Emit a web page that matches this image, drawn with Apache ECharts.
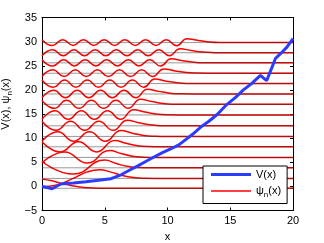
<!DOCTYPE html>
<html><head><meta charset="utf-8">
<script src="https://cdn.jsdelivr.net/npm/echarts@6/dist/echarts.min.js"></script>
<style>html,body{margin:0;padding:0;background:#fff}#c{width:324px;height:243px}</style>
</head><body><div id="c"></div>
<script>
// Potential V(x)
const vX = [0, 0.8, 1.5, 2.5, 3.5, 4.5, 5.5, 6.3, 7.0, 7.6, 8.3, 9.0, 9.6, 10.2, 10.9, 11.5, 12.0, 12.6, 13.3, 14.0, 14.7, 15.4, 16.05, 16.7, 17.4, 17.9, 18.3, 18.6, 19.0, 19.5, 20.0];
const vY = [0, -0.5, 0.5, 0.7, 0.95, 1.25, 1.6, 2.4, 3.4, 4.2, 5.2, 6.2, 7.0, 7.7, 8.6, 9.8, 10.8, 12.2, 13.5, 15.0, 16.9, 18.4, 20.0, 21.3, 23.0, 21.9, 24.5, 26.5, 27.5, 28.8, 30.6];

// Energy levels (offsets of each wavefunction)
const levels = [-0.4, 1.65, 3.85, 6.0, 8.2, 10.35, 12.55, 14.8, 17.0, 19.15, 21.3, 23.45, 25.6, 27.7, 29.8];

// Wavefunction key points [x, psi] (relative to level)
const psi0 = [[0,1.95],[0.8,1.55],[1.6,1.0],[2.4,0.55],[3.2,0.22],[4.0,0.07],[5.0,0],[20,0]];
const psi1 = [[0,-1.7],[1.2,-1.35],[2.4,-0.1],[3.6,1.35],[4.6,1.8],[5.5,1.3],[6.4,0.6],[7.3,0.18],[8.2,0.03],[9,0],[20,0]];
const psi2 = [[0,1.3],[2.5,-1.3],[5.0,1.6],[5.9,0.9],[6.8,0.3],[7.7,0.06],[8.6,0],[20,0]];
const psi3 = [[0,-1.15],[1.8,1.15],[3.6,-1.15],[5.4,1.45],[6.3,0.8],[7.2,0.26],[8.1,0.05],[9,0],[20,0]];
const psi4 = [[0,1.05],[1.45,-1.05],[2.9,1.05],[4.35,-1.05],[5.8,1.3],[6.7,0.72],[7.6,0.23],[8.5,0.04],[9.4,0],[20,0]];
const psi5 = [[0,-0.98],[1.26,0.98],[2.52,-0.98],[3.78,0.98],[5.04,-0.98],[6.3,1.22],[7.2,0.67],[8.1,0.21],[9.0,0.04],[9.9,0],[20,0]];
const psi6 = [[0,0.93],[1.13,-0.93],[2.27,0.93],[3.4,-0.93],[4.53,0.93],[5.67,-0.93],[6.8,1.15],[7.7,0.63],[8.6,0.2],[9.5,0.03],[10.4,0],[20,0]];
const psi7 = [[0,-0.88],[1.04,0.88],[2.09,-0.88],[3.13,0.88],[4.17,-0.88],[5.21,0.88],[6.26,-0.88],[7.3,1.1],[8.2,0.6],[9.1,0.19],[10,0.03],[10.9,0],[20,0]];
const psi8 = [[0,0.83],[0.98,-0.83],[1.96,0.83],[2.94,-0.83],[3.93,0.83],[4.91,-0.83],[5.89,0.83],[6.87,-0.83],[7.85,1.04],[8.75,0.57],[9.65,0.18],[10.55,0.03],[11.4,0],[20,0]];
const psi9 = [[0,-0.78],[0.93,0.78],[1.87,-0.78],[2.8,0.78],[3.73,-0.78],[4.67,0.78],[5.6,-0.78],[6.53,0.78],[7.47,-0.78],[8.4,0.98],[9.3,0.54],[10.2,0.17],[11.1,0.03],[12,0],[20,0]];
const psi10 = [[0,0.74],[0.9,-0.74],[1.8,0.74],[2.7,-0.74],[3.6,0.74],[4.5,-0.74],[5.4,0.74],[6.3,-0.74],[7.2,0.74],[8.1,-0.74],[9.0,0.93],[9.9,0.51],[10.8,0.16],[11.7,0.03],[12.6,0],[20,0]];
const psi11 = [[0,-0.7],[0.88,0.7],[1.76,-0.7],[2.65,0.7],[3.53,-0.7],[4.41,0.7],[5.29,-0.7],[6.17,0.7],[7.05,-0.7],[7.94,0.7],[8.82,-0.7],[9.7,0.88],[10.6,0.48],[11.5,0.15],[12.4,0.03],[13.3,0],[20,0]];
const psi12 = [[0,0.66],[0.86,-0.66],[1.72,0.66],[2.58,-0.66],[3.43,0.66],[4.29,-0.66],[5.15,0.66],[6.01,-0.66],[6.87,0.66],[7.73,-0.66],[8.58,0.66],[9.44,-0.66],[10.3,0.83],[11.2,0.45],[12.1,0.14],[13.0,0.02],[13.9,0],[20,0]];
const psi13 = [[0,-0.63],[0.85,0.63],[1.69,-0.63],[2.54,0.63],[3.38,-0.63],[4.23,0.63],[5.08,-0.63],[5.92,0.63],[6.77,-0.63],[7.62,0.63],[8.46,-0.63],[9.31,0.63],[10.15,-0.63],[11.0,0.8],[11.9,0.44],[12.8,0.13],[13.7,0.02],[14.6,0],[20,0]];
const psi14 = [[0,0.6],[0.83,-0.6],[1.65,0.6],[2.48,-0.6],[3.3,0.6],[4.13,-0.6],[4.95,0.6],[5.78,-0.6],[6.6,0.6],[7.43,-0.6],[8.25,0.6],[9.08,-0.6],[9.9,0.6],[10.73,-0.66],[11.55,0.82],[12.45,0.45],[13.35,0.14],[14.25,0.02],[15.1,0],[20,0]];
const waves = [psi0, psi1, psi2, psi3, psi4, psi5, psi6, psi7, psi8, psi9, psi10, psi11, psi12, psi13, psi14];

const xTicks = [0, 5, 10, 15, 20];
const yTicks = [-5, 0, 5, 10, 15, 20, 25, 30, 35];

const font = 'Liberation Sans, Arial, Helvetica, sans-serif';
const series = [];
waves.forEach((w, i) => {
  series.push({
    name: 'ψn(x)', type: 'line', smooth: 0.5, symbol: 'none', showSymbol: false, z: 2,
    lineStyle: { color: '#ff0000', width: 1.5 }, itemStyle: { color: '#ff0000' },
    data: w.map(p => [p[0], levels[i] + p[1]])
  });
});
levels.forEach(e => {
  series.push({
    name: 'level', type: 'line', symbol: 'none', z: 3, silent: true,
    lineStyle: { color: 'rgba(50,50,50,0.5)', width: 1 },
    data: [[xTicks[0], e], [xTicks[xTicks.length - 1], e]]
  });
});
series.push({
  name: 'V(x)', type: 'line', symbol: 'none', showSymbol: false, z: 4,
  lineStyle: { color: '#2a3cff', width: 3 }, itemStyle: { color: '#2a3cff' },
  data: vX.map((x, i) => [x, vY[i]])
});

const chart = echarts.init(document.getElementById('c'), null, { renderer: 'canvas' });
const minus = v => String(v).replace('-', '\u2212');
chart.setOption({
  animation: false,
  backgroundColor: '#fff',
  grid: { left: 42, right: 31, top: 17.5, bottom: 32.5, containLabel: false, outerBoundsMode: 'none' },
  xAxis: [{
    type: 'value', min: xTicks[0], max: xTicks[xTicks.length - 1], interval: 5,
    axisLine: { show: true, onZero: false, lineStyle: { color: '#000', width: 1 } },
    axisTick: { show: true, inside: true, length: 3, lineStyle: { color: '#000' } },
    axisLabel: { color: '#000', fontSize: 11, fontFamily: font, margin: 5, formatter: minus },
    splitLine: { show: false },
    name: 'x', nameLocation: 'middle', nameGap: 19,
    nameTextStyle: { color: '#000', fontSize: 11, fontFamily: font }
  }, {
    type: 'value', position: 'top', min: xTicks[0], max: xTicks[xTicks.length - 1], interval: 5,
    axisLine: { show: true, onZero: false, lineStyle: { color: '#000', width: 1 } },
    axisTick: { show: true, inside: true, length: 3, lineStyle: { color: '#000' } },
    axisLabel: { show: false }, splitLine: { show: false }
  }],
  yAxis: [{
    type: 'value', min: yTicks[0], max: yTicks[yTicks.length - 1], interval: 5,
    axisLine: { show: true, onZero: false, lineStyle: { color: '#000', width: 1 } },
    axisTick: { show: true, inside: true, length: 3, lineStyle: { color: '#000' } },
    axisLabel: { color: '#000', fontSize: 11, fontFamily: font, margin: 5, formatter: minus },
    splitLine: { show: false },
    name: '{p| }{a|V(x), ψ}{s|n}{a|(x)}', nameLocation: 'middle', nameGap: 26, nameRotate: 90,
    nameTextStyle: { color: '#000', fontSize: 11, fontFamily: font,
      rich: { p: { width: 20, fontSize: 11 },
              a: { fontSize: 11, fontFamily: font, color: '#000' },
              s: { fontSize: 8, fontFamily: font, color: '#000', padding: [7, 0, 0, 0] } } }
  }, {
    type: 'value', position: 'right', min: yTicks[0], max: yTicks[yTicks.length - 1], interval: 5,
    axisLine: { show: true, onZero: false, lineStyle: { color: '#000', width: 1 } },
    axisTick: { show: true, inside: true, length: 3, lineStyle: { color: '#000' } },
    axisLabel: { show: false }, splitLine: { show: false }
  }],
  legend: {
    data: [
      { name: 'V(x)', icon: 'path://M0,0L40,0L40,3L0,3Z' },
      { name: 'ψn(x)', icon: 'path://M0,0L40,0L40,1.5L0,1.5Z' }
    ],
    orient: 'vertical', left: 203, top: 166,
    backgroundColor: '#fff', borderColor: '#000', borderWidth: 1, borderRadius: 0,
    padding: [3, 6, 5, 8], itemWidth: 40, itemHeight: 12, itemGap: 5.5,
    textStyle: { color: '#000', fontSize: 11, fontFamily: font,
      rich: { a: { fontSize: 11, fontFamily: font, color: '#000' },
              s: { fontSize: 8, fontFamily: font, color: '#000', padding: [7, 0, 0, 0] } } },
    formatter: n => n === 'V(x)' ? '{a|V(x)}' : '{a|ψ}{s|n}{a|(x)}'
  },
  series: series
});
</script></body></html>
